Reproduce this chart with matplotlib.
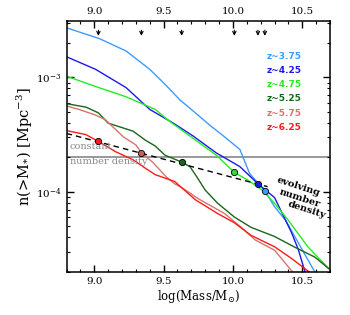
import numpy as np
import matplotlib.pyplot as plt
from matplotlib.ticker import NullFormatter, MultipleLocator

# cumulative number densities, log10 n(>M) in Mpc^-3
m_375 = [8.80, 9.04, 9.23, 9.40, 9.51, 9.62, 9.69, 9.835, 9.94, 10.05, 10.12, 10.23, 10.30, 10.38, 10.45, 10.52, 10.59]
n_375 = [-2.567, -2.663, -2.77, -2.93, -3.06, -3.20, -3.27, -3.42, -3.52, -3.63, -3.84, -3.99, -4.13, -4.25, -4.40, -4.55, -4.70]

m_425 = [8.80, 9.01, 9.23, 9.40, 9.57, 9.71, 9.88, 10.05, 10.18, 10.30, 10.36, 10.42, 10.47, 10.52]
n_425 = [-2.82, -2.93, -3.09, -3.28, -3.40, -3.51, -3.66, -3.78, -3.93, -4.05, -4.20, -4.35, -4.50, -4.70]

m_475 = [8.80, 9.01, 9.23, 9.44, 9.545, 9.71, 9.88, 10.01, 10.11, 10.21, 10.30, 10.40, 10.54, 10.69]
n_475 = [-2.99, -3.08, -3.17, -3.28, -3.386, -3.53, -3.68, -3.83, -3.90, -3.985, -4.10, -4.25, -4.48, -4.67]

m_525 = [8.80, 8.94, 9.03, 9.10, 9.28, 9.37, 9.44, 9.51, 9.63, 9.69, 9.74, 9.80, 9.89, 10.01, 10.13, 10.30, 10.44, 10.59, 10.69]
n_525 = [-3.23, -3.26, -3.31, -3.40, -3.47, -3.55, -3.60, -3.68, -3.74, -3.78, -3.87, -3.985, -4.10, -4.22, -4.31, -4.39, -4.48, -4.57, -4.67]

m_575 = [8.80, 8.89, 9.01, 9.08, 9.21, 9.30, 9.34, 9.42, 9.52, 9.58, 9.64, 9.75, 9.94, 10.06, 10.16, 10.30, 10.43]
n_575 = [-3.25, -3.28, -3.33, -3.37, -3.52, -3.59, -3.66, -3.74, -3.87, -3.93, -3.97, -4.06, -4.19, -4.31, -4.42, -4.51, -4.70]

m_625 = [8.80, 8.94, 9.03, 9.155, 9.28, 9.37, 9.44, 9.58, 9.73, 9.89, 10.01, 10.13, 10.30, 10.42, 10.55]
n_625 = [-3.465, -3.50, -3.56, -3.65, -3.72, -3.795, -3.85, -3.91, -4.07, -4.19, -4.27, -4.38, -4.48, -4.58, -4.70]

labels = ['z~3.75', 'z~4.25', 'z~4.75', 'z~5.25', 'z~5.75', 'z~6.25']
colors = ['#3d9bff', '#1a1aee', '#22ee22', '#1a661a', '#d9736f', '#ff1a1a']
mk_colors = ['#3d9bff', '#1a1aee', '#33dd33', '#1a661a', '#c06060', '#ff1a1a']

# evolving number density points (one per redshift)
pt_mass = [10.23, 10.18, 10.01, 9.63, 9.34, 9.03]
pt_logn = [-3.99, -3.93, -3.83, -3.74, -3.66, -3.56]

dash_mass = [8.80, 10.25]
dash_logn = [-3.49, -3.955]

const_n = 2.0e-4

curves = [(m_375, n_375), (m_425, n_425), (m_475, n_475),
          (m_525, n_525), (m_575, n_575), (m_625, n_625)]

plt.rcParams['font.family'] = ['DejaVu Serif']
plt.rcParams['mathtext.fontset'] = 'dejavuserif'

fig = plt.figure(figsize=(3.5, 3.15), dpi=100)
ax = fig.add_axes([0.19, 0.137, 0.753, 0.796])

ax.axhline(const_n, color='#999999', lw=1.4, zorder=1)
for (m, n), c in zip(curves, colors):
    ax.plot(m, 10 ** np.array(n), color=c, lw=1.0, zorder=2)

ax.plot(dash_mass, 10 ** np.array(dash_logn), 'k--', lw=1.0, dashes=(4, 3), zorder=3)
for x, y, c in zip(pt_mass, pt_logn, mk_colors):
    ax.plot(x, 10 ** y, 'o', color=c, mec='k', mew=0.6, ms=4.5, zorder=4)
    ax.annotate('', xy=(x, 0.93), xytext=(x, 0.975), xycoords=('data', 'axes fraction'),
                arrowprops=dict(arrowstyle='->', color='k', lw=0.8, mutation_scale=6))

ax.set_yscale('log')
ax.set_xlim(8.8, 10.7)
ax.set_ylim(2e-5, 3.1e-3)
ax.xaxis.set_major_locator(MultipleLocator(0.5))
ax.xaxis.set_minor_locator(MultipleLocator(0.1))
ax.yaxis.set_minor_formatter(NullFormatter())
ax.tick_params(which='both', direction='in', top=True, right=True, labeltop=True, labelsize=7.5)
ax.tick_params(which='major', length=5, width=1)
ax.tick_params(which='minor', length=2.5, width=0.8)
for s in ax.spines.values():
    s.set_linewidth(1.1)

ax.set_xlabel(r'log(Mass/M$_{\odot}$)', fontsize=8.5, labelpad=2)
ax.set_ylabel(r'n(>M$_{*}$) [Mpc$^{-3}$]', fontsize=10.5, labelpad=1)

for i, (lab, c) in enumerate(zip(labels, colors)):
    ax.text(0.892, 0.859 - i * 0.0564, lab, color=c, fontsize=6.5, fontweight='bold',
            family='DejaVu Sans', ha='right', va='center', transform=ax.transAxes)

ax.text(0.012, 0.499, 'constant', color='#888888', fontsize=7, transform=ax.transAxes, va='center')
ax.text(0.012, 0.439, 'number density', color='#888888', fontsize=7, transform=ax.transAxes, va='center')
for txt, tx, ty in [('evolving', 0.879, 0.338), ('number', 0.886, 0.294), ('density', 0.913, 0.246)]:
    ax.text(tx, ty, txt, color='k', fontsize=7, fontweight='bold', rotation=-18,
            ha='center', va='center', transform=ax.transAxes)

fig.savefig('out.png', dpi=100)
